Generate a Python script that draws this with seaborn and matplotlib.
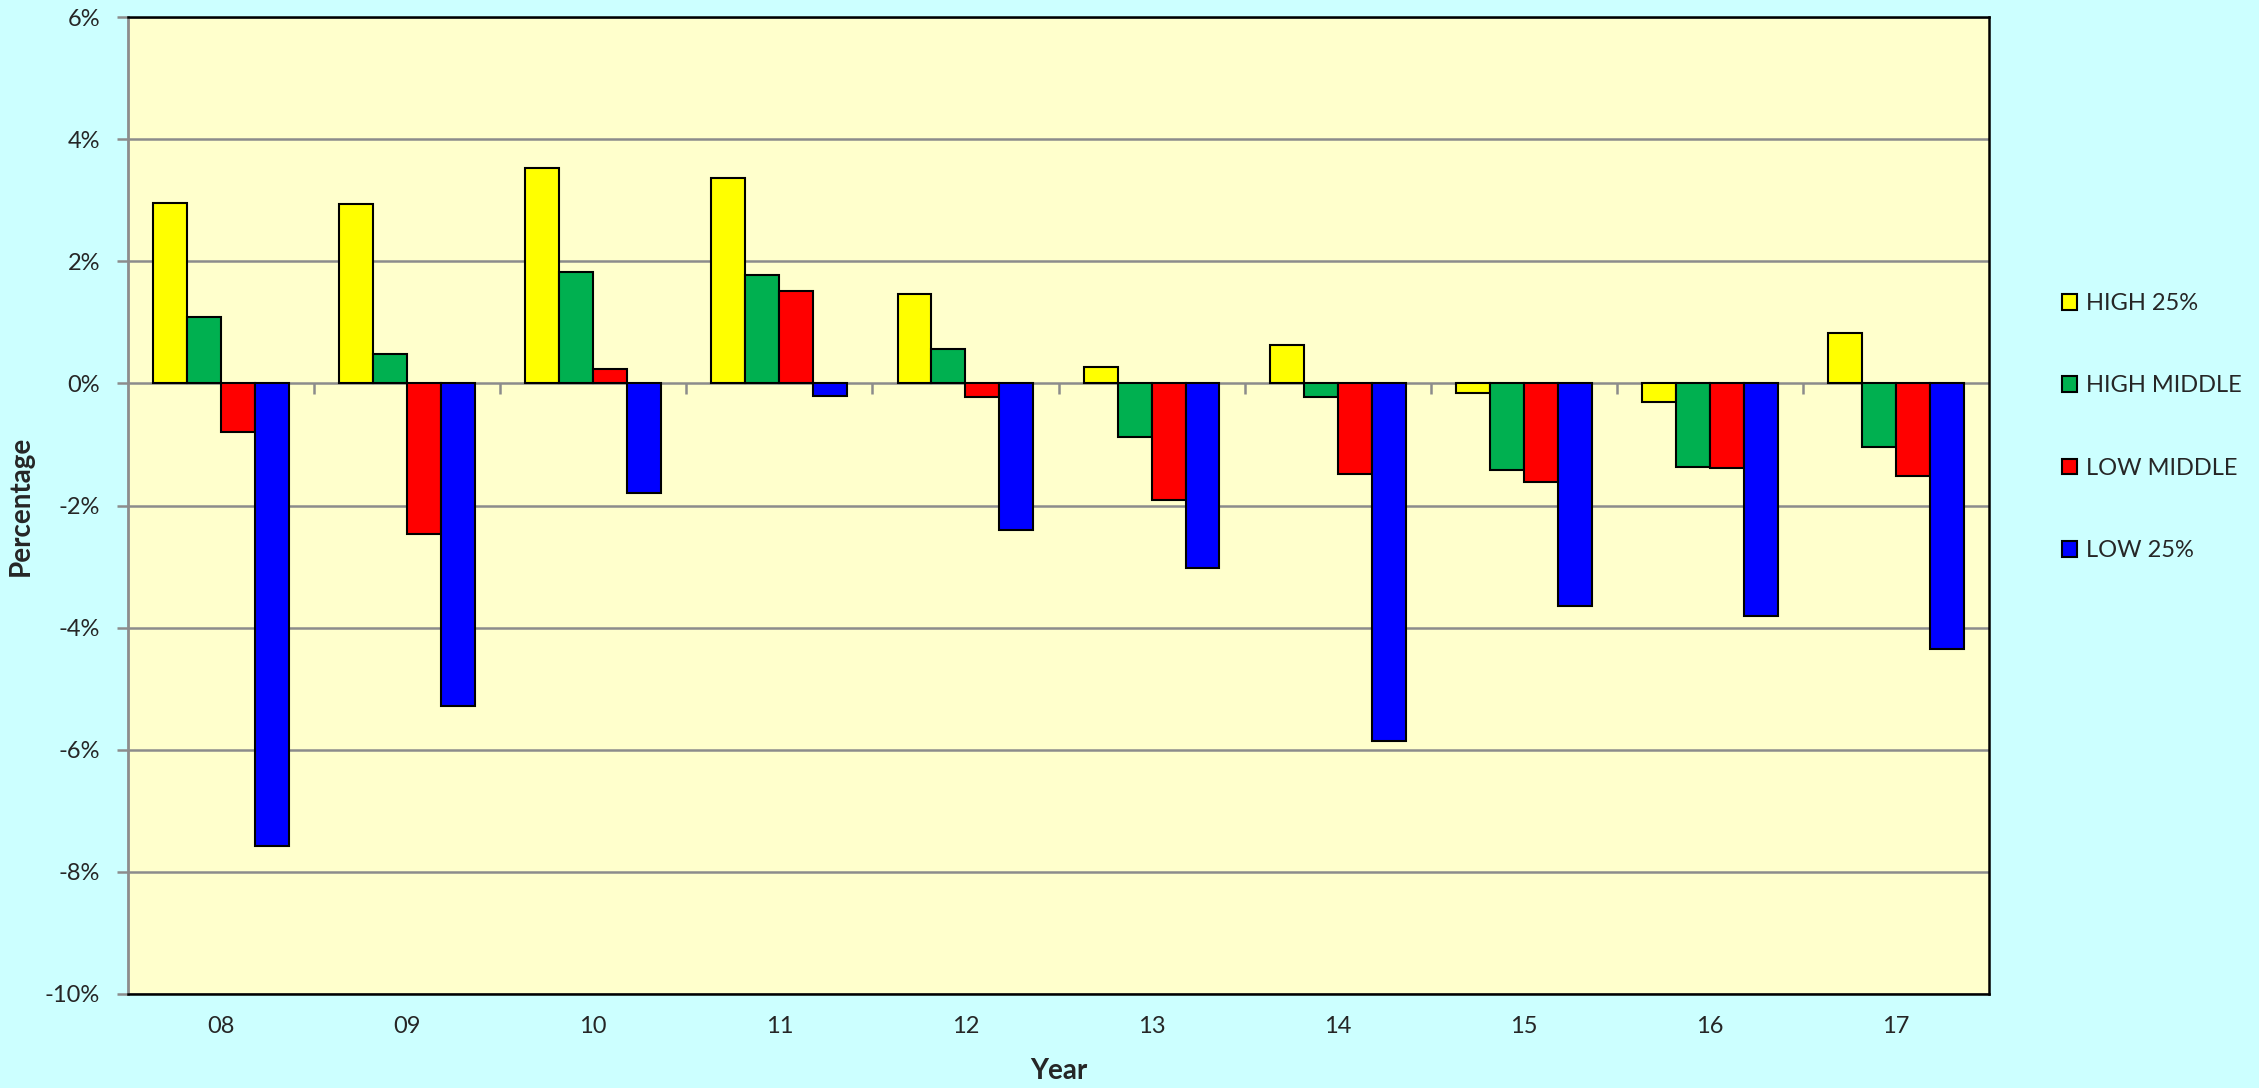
import matplotlib
matplotlib.use("Agg")
import matplotlib.pyplot as plt
import seaborn as sns
import pandas as pd
from matplotlib.ticker import FuncFormatter

# ----------------------------------------------------------
# DATA (percent change by year and income group)
# ----------------------------------------------------------
years = ["08", "09", "10", "11", "12", "13", "14", "15", "16", "17"]
groups = ["HIGH 25%", "HIGH MIDDLE", "LOW MIDDLE", "LOW 25%"]

high_25 = [2.95, 2.94, 3.53, 3.36, 1.47, 0.26, 0.63, -0.15, -0.30, 0.83]
high_middle = [1.08, 0.48, 1.82, 1.77, 0.56, -0.88, -0.23, -1.42, -1.37, -1.05]
low_middle = [-0.79, -2.47, 0.23, 1.52, -0.22, -1.91, -1.48, -1.61, -1.39, -1.51]
low_25 = [-7.57, -5.28, -1.79, -0.20, -2.40, -3.02, -5.85, -3.64, -3.81, -4.35]

colors = {"HIGH 25%": "#FFFF00", "HIGH MIDDLE": "#00B050",
          "LOW MIDDLE": "#FF0000", "LOW 25%": "#0000FF"}

df = pd.DataFrame({
    "Year": years * 4,
    "Group": [g for g in groups for _ in years],
    "Value": high_25 + high_middle + low_middle + low_25,
})

# ----------------------------------------------------------
# FIGURE
# ----------------------------------------------------------
sns.set_style("white")
plt.rcParams["font.family"] = ["Lato", "DejaVu Sans"]

fig = plt.figure(figsize=(22.59, 10.88), dpi=100, facecolor="#CCFFFF")
ax = fig.add_axes([128 / 2259, 1 - 994 / 1088, (1989 - 128) / 2259, (994 - 17) / 1088])
ax.set_facecolor("#FFFFCC")

sns.barplot(
    data=df, x="Year", y="Value", hue="Group",
    order=years, hue_order=groups, palette=colors, saturation=1,
    width=0.73, edgecolor="black", linewidth=1.5,
    errorbar=None, ax=ax, zorder=3,
)

ax.set_ylim(-10, 6)
ax.set_yticks(range(-10, 7, 2))
ax.yaxis.set_major_formatter(FuncFormatter(lambda v, p: f"{v:.0f}%"))
ax.set_xlim(-0.5, len(years) - 0.5)

ax.grid(axis="y", color="#8C8C8C", linewidth=1.8, zorder=0)
ax.set_axisbelow(True)

for side in ["top", "right", "bottom"]:
    ax.spines[side].set_color("black")
    ax.spines[side].set_linewidth(1.8)
ax.spines["left"].set_color("#8C8C8C")
ax.spines["left"].set_linewidth(2)

ax.tick_params(axis="y", left=True, length=8, width=1.8, color="#8C8C8C",
               labelsize=17, pad=12)
ax.tick_params(axis="x", length=0, labelsize=17, pad=16)

# zero axis line with category-boundary ticks (Excel style)
zero_frac = (0 - (-10)) / 16
sec = ax.secondary_xaxis(zero_frac)
sec.set_xticks([i + 0.5 for i in range(len(years) - 1)])
sec.tick_params(axis="x", direction="out", length=8, width=1.8,
                color="#8C8C8C", labelbottom=False, labeltop=False,
                bottom=True, top=False)
sec.spines["bottom"].set_color("#8C8C8C")
sec.spines["bottom"].set_linewidth(2)
sec.spines["top"].set_visible(False)

ax.set_xlabel("Year", fontsize=20, fontweight="bold", labelpad=15)
ax.set_ylabel("Percentage", fontsize=20, fontweight="bold", labelpad=8)

handles, labels = ax.get_legend_handles_labels()
ax.get_legend().remove()
fig.legend(
    handles, labels, loc="center left",
    bbox_to_anchor=(2062 / 2259, 1 - 427 / 1088),
    frameon=False, fontsize=17, handlelength=0.65, handleheight=0.65,
    handletextpad=0.35, labelspacing=2.6, borderpad=0, borderaxespad=0,
)

plt.savefig("out.png", dpi=100, facecolor=fig.get_facecolor())
